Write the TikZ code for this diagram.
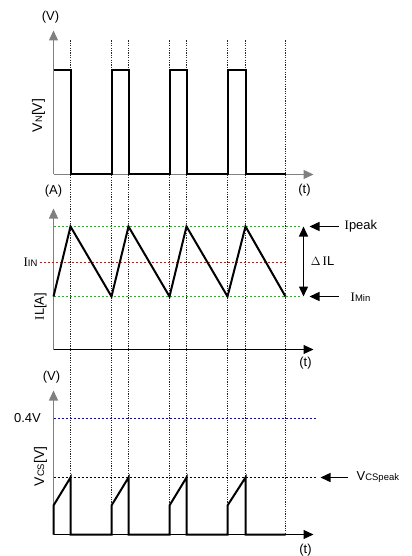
\documentclass[tikz,border=0pt]{standalone}
\usepackage{fontspec}
\setmainfont{Liberation Sans}
\newfontfamily\serifI{Liberation Serif}
\usetikzlibrary{arrows.meta}
\definecolor{lvgreen}{RGB}{0,210,0}
\definecolor{lvred}{RGB}{255,0,0}
\definecolor{lvblue}{RGB}{0,0,255}
\newcommand{\mainsz}{\fontsize{13}{15}\selectfont}
\newcommand{\subsz}{\fontsize{9.5}{11}\selectfont}
\begin{document}
\begin{tikzpicture}[x=1bp,y=-1bp,
  dotv/.style={draw=black!85, line width=0.7bp, dash pattern=on 1.2bp off 1.2bp},
  wave/.style={draw=black, line width=2bp, line join=miter},
  axg/.style={draw=black!50, line width=1.3bp},
  axk/.style={draw=black, line width=1bp},
  tip/.style={-{Triangle[length=10bp,width=9bp]}},
  dtip/.style={{Triangle[length=10bp,width=9bp]}-{Triangle[length=10bp,width=9bp]}},
  grn/.style={draw=lvgreen, line width=1.4bp, dash pattern=on 2bp off 2bp},
  rdl/.style={draw=lvred, line width=1.4bp, dash pattern=on 2bp off 2bp},
  blu/.style={draw=lvblue, line width=1.3bp, dash pattern=on 2bp off 2bp},
  blk/.style={draw=black, line width=1.2bp, dash pattern=on 2bp off 2bp},
  lbl/.style={inner sep=0pt, font=\mainsz},
  ptr/.style={draw=black, line width=1.4bp, -{Triangle[length=10bp,width=9bp]}}
]
\path[use as bounding box] (0,0) rectangle (411,556);
\begin{scope}[shift={(0.5,0.5)}]
% dotted verticals
\foreach \x in {70,111,128,169,186,227,245,285}
  \draw[dotv] (\x,40) -- (\x,534);
% ---- top panel
\coordinate (o1) at (53,174);
\coordinate (y1) at (53,30);
\coordinate (x1) at (313,174);
\draw[axg,tip] (o1) -- (y1);
\draw[axg,tip] (o1) -- (x1);
\draw[wave] (53,70) -- (70,70) -- (70,174) -- (111,174) -- (111,70) -- (128,70) -- (128,174)
  -- (169,174) -- (169,70) -- (186,70) -- (186,174) -- (227,174) -- (227,70) -- (245,70)
  -- (245,174) -- (285,174);
\node[lbl] (v1) at (50,17) {(V)};
\node[lbl] (t1) at (304,190) {(t)};
\node[lbl, rotate=90, font=\fontsize{14}{16}\selectfont] (vn) at (38,115) {V{\subsz N}[V]};
% ---- middle panel
\coordinate (o2) at (53,349);
\coordinate (y2) at (53,208);
\coordinate (x2) at (313,349);
\draw[axg,tip] (o2) -- (y2);
\draw[axk,tip] (o2) -- (x2);
\draw[grn] (53,226) -- (300,226);
\draw[grn] (53,296) -- (300,296);
\draw[rdl] (39,262) -- (285,262);
\draw[wave] (53,296) -- (70,226) -- (111,296) -- (128,226) -- (169,296) -- (186,226)
  -- (227,296) -- (245,226) -- (285,296);
\node[lbl] (a2) at (53,191) {(A)};
\node[lbl] (t2) at (305,363) {(t)};
\node[lbl] (iin) at (30,262) {{\serifI I}{\subsz IN}};
\node[lbl, rotate=90] (il) at (40,306) {{\serifI I}L[A]};
\coordinate (dtop) at (303,226);
\coordinate (dbot) at (303,296);
\draw[draw=black, line width=1.4bp, dtip] (dtop) -- (dbot);
\node[lbl] (dil) at (322,261) {$\Delta$\,{\serifI I}L};
\coordinate (pk1) at (338,226);
\coordinate (pk2) at (309,226);
\draw[ptr] (pk1) -- (pk2);
\node[lbl, anchor=west] (ipk) at (344,226) {{\serifI I}peak};
\coordinate (mn1) at (338,296);
\coordinate (mn2) at (309,296);
\draw[ptr] (mn1) -- (mn2);
\node[lbl, anchor=west] (imn) at (350,297) {{\serifI I}{\subsz Min}};
% ---- bottom panel
\coordinate (o3) at (53,534);
\coordinate (y3) at (53,390);
\coordinate (x3) at (313,534);
\draw[axg,tip] (o3) -- (y3);
\draw[axk,tip] (o3) -- (x3);
\draw[blu] (53,418) -- (315,418);
\draw[blk] (53,477) -- (315,477);
\draw[wave] (53,534) -- (53,505) -- (70,477) -- (70,534) -- (111,534) -- (111,505) -- (128,477)
  -- (128,534) -- (169,534) -- (169,505) -- (186,477) -- (186,534) -- (227,534) -- (227,505)
  -- (245,477) -- (245,534) -- (285,534);
\node[lbl] (v3) at (51,377) {(V)};
\node[lbl] (t3) at (305,550) {(t)};
\node[lbl] (v04) at (27,418) {0.4V};
\node[lbl, rotate=90, font=\fontsize{14}{16}\selectfont] (vcs) at (40,466) {V{\subsz CS}[V]};
\coordinate (vp1) at (347,477);
\coordinate (vp2) at (320,477);
\draw[ptr] (vp1) -- (vp2);
\node[lbl, anchor=west] (vcsp) at (356,477) {V{\subsz CSpeak}};
\end{scope}
\end{tikzpicture}
\end{document}
